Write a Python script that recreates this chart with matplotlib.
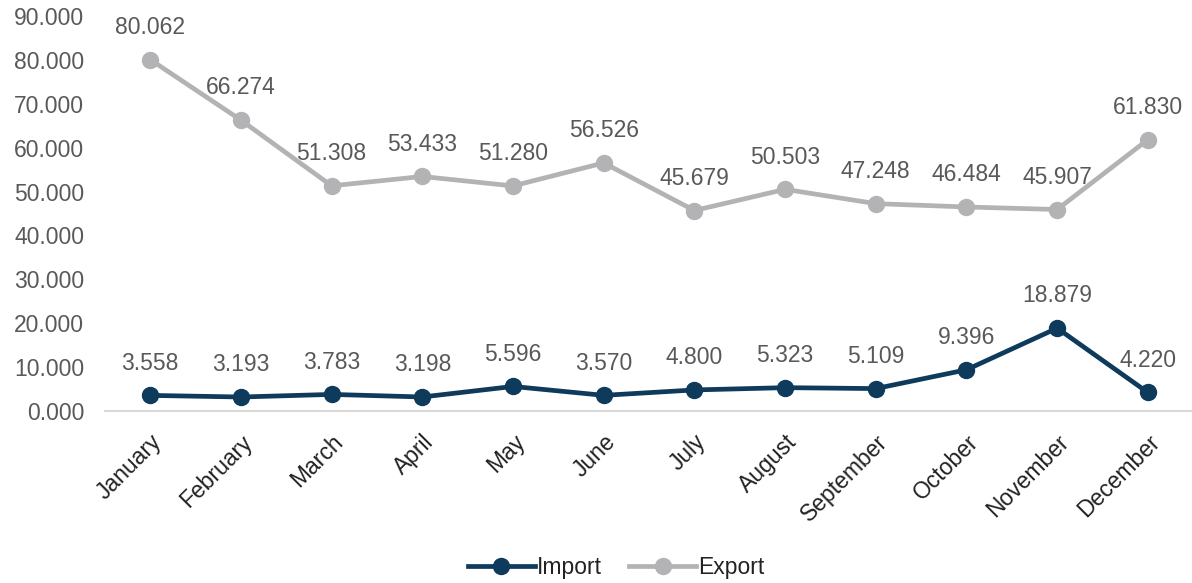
import numpy as np
import matplotlib.pyplot as plt

plt.rcParams['font.family'] = ['Liberation Sans', 'DejaVu Sans']

months = ['January', 'February', 'March', 'April', 'May', 'June', 'July',
          'August', 'September', 'October', 'November', 'December']
imports = [3.558, 3.193, 3.783, 3.198, 5.596, 3.570, 4.800, 5.323, 5.109, 9.396, 18.879, 4.220]
exports = [80.062, 66.274, 51.308, 53.433, 51.280, 56.526, 45.679, 50.503, 47.248, 46.484, 45.907, 61.830]

imp_color = '#0e3a5c'
exp_color = '#b3b3b6'
lbl_color = '#595959'
fs = 16.5

fig = plt.figure(figsize=(11.92, 5.83), dpi=100)
ax = fig.add_axes([0.088, 0.2950, 0.913, 0.6776])

x = np.arange(len(months))
ax.plot(x, imports, color=imp_color, lw=3.4, marker='o', ms=11.5, label='Import', zorder=3)
ax.plot(x, exports, color=exp_color, lw=3.4, marker='o', ms=11.5, label='Export', zorder=3)

for xi, v in zip(x, imports):
    ax.annotate(f'{v:.3f}', (xi, v), xytext=(0, 15), textcoords='offset points',
                ha='center', va='bottom', fontsize=fs, color=lbl_color)
for xi, v in zip(x, exports):
    ax.annotate(f'{v:.3f}', (xi, v), xytext=(0, 15), textcoords='offset points',
                ha='center', va='bottom', fontsize=fs, color=lbl_color)

ax.set_xlim(-0.5, 11.5)
ax.set_ylim(0, 90)
ax.set_yticks(np.arange(0, 91, 10))
ax.set_yticklabels([f'{t:.3f}' for t in np.arange(0, 91, 10)], fontsize=fs, color=lbl_color)
ax.set_xticks(x)
ax.set_xticklabels(months, rotation=45, ha='right', rotation_mode='anchor', fontsize=fs, color='#222222')
ax.tick_params(length=0, axis='both')
ax.tick_params(axis='x', pad=14)
ax.tick_params(axis='y', pad=15)

for s in ['top', 'right', 'left']:
    ax.spines[s].set_visible(False)
ax.spines['bottom'].set_color('#d9d9d9')
ax.spines['bottom'].set_linewidth(1.5)

fig.legend(loc='lower center', bbox_to_anchor=(0.517, -0.029), ncol=2, frameon=False,
           fontsize=fs, handlelength=2.9, handletextpad=0.1, columnspacing=1.2,
           labelcolor='#222222')

fig.savefig('out.png', dpi=100)
